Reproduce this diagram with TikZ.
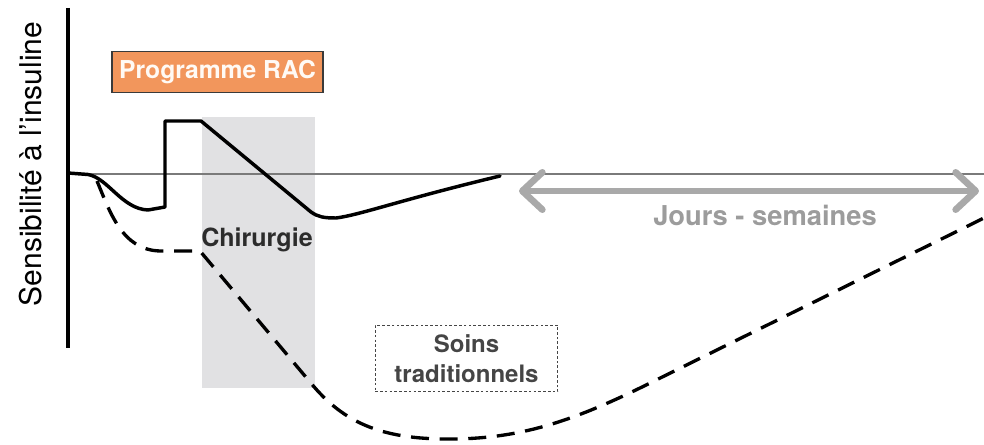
\documentclass[tikz,border=0pt]{standalone}
\usepackage{fontspec}
\setmainfont{TeX Gyre Heros}
\usetikzlibrary{arrows.meta}
\definecolor{orangefill}{HTML}{F2965C}
\definecolor{boxedge}{HTML}{3A3A3A}
\definecolor{surggray}{HTML}{E1E1E3}
\definecolor{arrowgray}{HTML}{A9A9A9}
\definecolor{jourstext}{HTML}{9C9C9C}
\definecolor{darktext}{HTML}{2C2C2C}
\definecolor{soinstext}{HTML}{454545}
\definecolor{baseline}{HTML}{7A7A7A}
\tikzset{
  solidcurve/.style={line width=2.6pt, line join=round, line cap=round},
  dashcurve/.style={line width=2.5pt, dash pattern=on 13.5pt off 8pt},
  axisline/.style={line width=2.3pt},
  refline/.style={line width=1.1pt, draw=baseline},
  rac/.style={fill=orangefill, draw=boxedge, line width=1.2pt, text=white!96!orange,
    font=\fontsize{18.5}{20}\selectfont\bfseries, minimum width=158pt, minimum height=31pt, inner sep=0pt},
  soinsbox/.style={draw=soinstext, line width=0.7pt, dash pattern=on 2pt off 1.6pt,
    text=soinstext, font=\fontsize{18}{22}\selectfont\bfseries, align=center,
    minimum width=137pt, minimum height=50pt, inner sep=0pt},
  labeltext/.style={font=\fontsize{18.8}{20}\selectfont\bfseries, text=darktext, inner sep=0pt},
  jourslabel/.style={font=\fontsize{20.5}{22}\selectfont\bfseries, text=jourstext, inner sep=0pt},
  axislabel/.style={font=\fontsize{22.5}{26}\selectfont, rotate=90, inner sep=0pt},
  spanarrow/.style={line width=5pt, draw=arrowgray,
    {Straight Barb[length=15pt,width=28pt,round]}-{Straight Barb[length=15pt,width=28pt,round]}}
}
\begin{document}
\begin{tikzpicture}[x=0.75pt,y=-0.75pt]
\useasboundingbox (0,0) rectangle (984,445);
% surgery band
\fill[surggray] (202,117) rectangle (315,388);
% reference line
\coordinate (refL) at (68,174);
\coordinate (refR) at (984,174);
\draw[refline] (refL) -- (refR);
% axis
\coordinate (axTop) at (68,8);
\coordinate (axBot) at (68,348);
\draw[axisline] (axTop) -- (axBot);
\node[axislabel] (ylab) at (31,164) {Sensibilité à l’insuline};
% RAC box
\node[rac] (racbox) at (217.5,72) {Programme RAC};
% solid curve (RAC)
\draw[solidcurve] (68,173) -- (88,174.5)
  .. controls (108,178) and (122,209) .. (148,210)
  -- (165,207) -- (165,121) -- (201,121) -- (311,212)
  .. controls (318,217) and (324,218) .. (336,218)
  .. controls (360,215) and (400,200) .. (500,176);
% dashed curve (traditional)
\draw[dashcurve] (97,181)
  .. controls (110,212) and (122,250) .. (160,251)
  -- (200,251) -- (310,382)
  .. controls (345,425) and (385,440) .. (455,439)
  .. controls (520,438) and (570,422) .. (640,388)
  -- (988,216);
% labels
\node[labeltext] (chir) at (257,240) {Chirurgie};
\node[soinsbox] (soins) at (466.5,358.5) {Soins\\traditionnels};
% span arrow
\coordinate (arrL) at (519,191);
\coordinate (arrR) at (979,191);
\draw[spanarrow] (arrL) -- (arrR);
\node[jourslabel] (jours) at (765,215) {Jours - semaines};
\end{tikzpicture}
\end{document}
